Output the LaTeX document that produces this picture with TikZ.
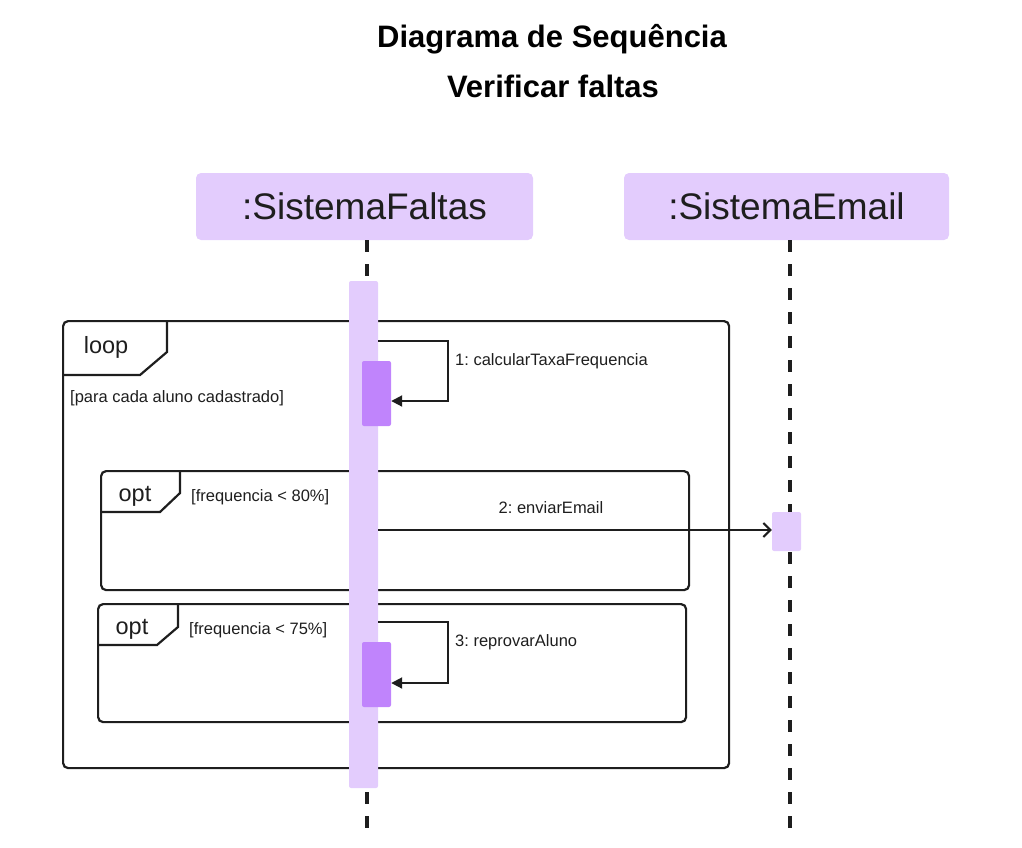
\documentclass[tikz,border=0pt]{standalone}
\usepackage{fontspec}
\setmainfont{Liberation Sans}
\usetikzlibrary{arrows.meta}
\frenchspacing
\definecolor{lightp}{HTML}{E3CCFD}
\definecolor{darkp}{HTML}{C084FC}
\definecolor{ink}{HTML}{1E1E1E}
\tikzset{
  hdr/.style={fill=lightp, rounded corners=5pt, inner sep=0pt, text=ink, font=\fontsize{37}{42}\selectfont},
  lifeline/.style={draw=ink, line width=4pt, dash pattern=on 12pt off 12pt},
  framebox/.style={draw=ink, line width=2.2pt, rounded corners=5pt, inner sep=0pt, anchor=north west},
  tabline/.style={draw=ink, line width=2.2pt},
  kw/.style={text=ink, inner sep=0pt, font=\fontsize{23.5}{27}\selectfont},
  small/.style={text=ink, inner sep=0pt, anchor=west, font=\fontsize{16.5}{19}\selectfont},
  actlight/.style={fill=lightp, inner sep=0pt, rounded corners=2pt},
  actdark/.style={fill=darkp, inner sep=0pt, rounded corners=2pt},
  msg/.style={draw=ink, line width=2pt},
  title/.style={text=black, inner sep=0pt, font=\fontsize{31}{36}\bfseries\selectfont}
}
\begin{document}
\begin{tikzpicture}[x=1pt,y=-1pt]
\useasboundingbox (0,0) rectangle (1022,847);
% title
\node[title] (t1) at (552,39) {Diagrama de Sequência};
\node[title] (t2) at (553,86) {Verificar faltas};
% headers
\node[hdr, minimum width=337pt, minimum height=67pt] (sf) at (364.5,206.5) {:SistemaFaltas};
\node[hdr, minimum width=325pt, minimum height=67pt] (se) at (786.5,206.5) {:SistemaEmail};
% lifelines
\coordinate (sfend) at (367,830);
\coordinate (seend) at (790,830);
\draw[lifeline] (sf.south -| sfend) -- (sfend);
\draw[lifeline] (se.south -| seend) -- (seend);
% frames
\node[framebox, minimum width=666pt, minimum height=447pt] (loopf) at (62,320) {};
\draw[tabline] (167,320) -- (167,352) -- (140,375) -- (62,375);
\node[kw] (loopl) at (106,347) {loop};
\node[small] (g0) at (70,398) {[para cada aluno cadastrado]};

\node[framebox, minimum width=588pt, minimum height=119pt] (opt1) at (100,470) {};
\draw[tabline] (180,470) -- (180,493) -- (160,512) -- (100,512);
\node[kw] (opt1l) at (135,496) {opt};
\node[small] (g1) at (191,497) {[frequencia < 80\%]};

\node[framebox, minimum width=588pt, minimum height=118pt] (opt2) at (97,603) {};
\draw[tabline] (178,603) -- (178,627) -- (157,645) -- (97,645);
\node[kw] (opt2l) at (132,629) {opt};
\node[small] (g2) at (189,630) {[frequencia < 75\%]};
% activations
\node[actlight, minimum width=29pt, minimum height=507pt] (barA) at (363.5,534.5) {};
\node[actdark, minimum width=29pt, minimum height=65pt] (d1) at (376.5,393.5) {};
\node[actdark, minimum width=29pt, minimum height=65pt] (d2) at (376.5,674.5) {};
\node[actlight, minimum width=29pt, minimum height=39pt] (barB) at (786.5,531.5) {};
% message 1
\coordinate (m1a) at (barA.east |- 0,341);
\draw[msg, -{Triangle[length=11pt,width=11pt]}] (m1a) -- (448,341) -- (448,401) -- (d1.east |- 0,401);
\node[small] (l1) at (455,361) {1: calcularTaxaFrequencia};
% message 2
\draw[msg, -{Straight Barb[length=7pt,width=14pt,line width=2pt]}] (barA.east |- 0,530) -- (barB.west |- 0,530);
\node[small, anchor=center] (l2) at (551,508) {2: enviarEmail};
% message 3
\draw[msg, -{Triangle[length=11pt,width=11pt]}] (barA.east |- 0,622) -- (448,622) -- (448,683) -- (d2.east |- 0,683);
\node[small] (l3) at (455,642) {3: reprovarAluno};
\end{tikzpicture}
\end{document}
